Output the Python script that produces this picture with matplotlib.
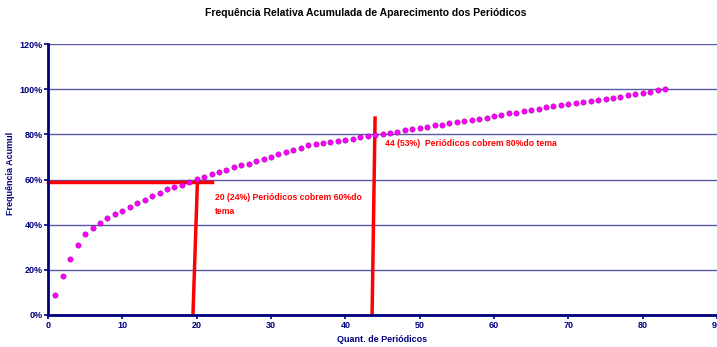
import matplotlib
matplotlib.use("Agg")
import matplotlib.pyplot as plt
from matplotlib.ticker import PercentFormatter

plt.rcParams["font.family"] = ["Liberation Sans", "DejaVu Sans"]

# --- data: cumulative relative frequency (%) per number of periodicals ---
quant = list(range(1, 84))
freq_acum = [
    8.9, 17.1, 24.9, 30.9, 35.7, 38.5, 40.9, 43.1, 44.9, 46.2,
    48.0, 49.5, 50.8, 52.6, 54.0, 55.7, 56.8, 57.7, 58.7, 60.1,
    61.1, 62.5, 63.5, 64.4, 65.6, 66.6, 67.0, 68.1, 69.2, 70.1,
    71.2, 72.1, 73.2, 74.1, 75.2, 75.6, 76.1, 76.5, 77.1, 77.4,
    78.0, 78.6, 79.3, 79.8, 80.3, 80.6, 81.2, 81.9, 82.5, 82.9,
    83.3, 84.0, 84.2, 85.0, 85.5, 86.1, 86.4, 86.9, 87.4, 88.1,
    88.6, 89.3, 89.5, 90.2, 90.8, 91.4, 92.1, 92.4, 92.9, 93.3,
    93.9, 94.3, 94.8, 95.4, 95.8, 96.2, 96.5, 97.4, 97.7, 98.4,
    98.6, 99.5, 100.0,
]

# red guide lines (drawn by hand in the original, slightly tilted)
h_line_x = [0, 22]
h_line_y = [58.9, 58.9]
v1_x = [19.5, 20.1]
v1_y = [0, 58.9]
v2_x = [43.6, 44.0]
v2_y = [0, 87.2]

note_20 = "20 (24%) Periódicos cobrem 60%do\ntema"
note_44 = "44 (53%)  Periódicos cobrem 80%do tema"

navy = "#000080"

fig = plt.figure(figsize=(7.17, 3.47), dpi=100)
ax = fig.add_axes([48 / 717, 32 / 347, 669 / 717, 271 / 347])

ax.set_xlim(0, 90)
ax.set_ylim(0, 120)
ax.set_yticks(range(0, 121, 20))
ax.set_xticks(range(0, 91, 10))
ax.yaxis.set_major_formatter(PercentFormatter(decimals=0))

ax.yaxis.grid(True, color="#5a5aaa", linewidth=1)
ax.set_axisbelow(True)

for side in ("top", "right"):
    ax.spines[side].set_visible(False)
for side in ("left", "bottom"):
    ax.spines[side].set_color(navy)
    ax.spines[side].set_linewidth(2)

ax.tick_params(colors=navy, labelsize=6.5, length=3, width=1.2, pad=1)
for lbl in ax.get_xticklabels() + ax.get_yticklabels():
    lbl.set_fontweight("bold")

ax.plot(h_line_x, h_line_y, color="red", linewidth=2.5, clip_on=False)
ax.plot(v1_x, v1_y, color="red", linewidth=2.5)
ax.plot(v2_x, v2_y, color="red", linewidth=2.5)

ax.scatter(quant, freq_acum, s=15, color="#ff00ff", edgecolors="#800080",
           linewidths=0.3, zorder=5, clip_on=False)

ax.text(22.4, 54, note_20, color="red", fontsize=6.2, fontweight="bold",
        va="top", ha="left", linespacing=1.7)
ax.text(45.3, 77.8, note_44, color="red", fontsize=6.2, fontweight="bold",
        va="top", ha="left")

fig.text(0.51, 0.962, "Frequência Relativa Acumulada de Aparecimento dos Periódicos",
         ha="center", va="center", fontsize=7.5, fontweight="bold", color="black")
ax.set_xlabel("Quant. de Periódicos", color=navy, fontsize=6.5,
              fontweight="bold", labelpad=4)
fig.text(0.014, 0.5, "Frequência Acumul", rotation=90, ha="center", va="center",
         color=navy, fontsize=6.5, fontweight="bold")

fig.savefig("out.png", dpi=100)
